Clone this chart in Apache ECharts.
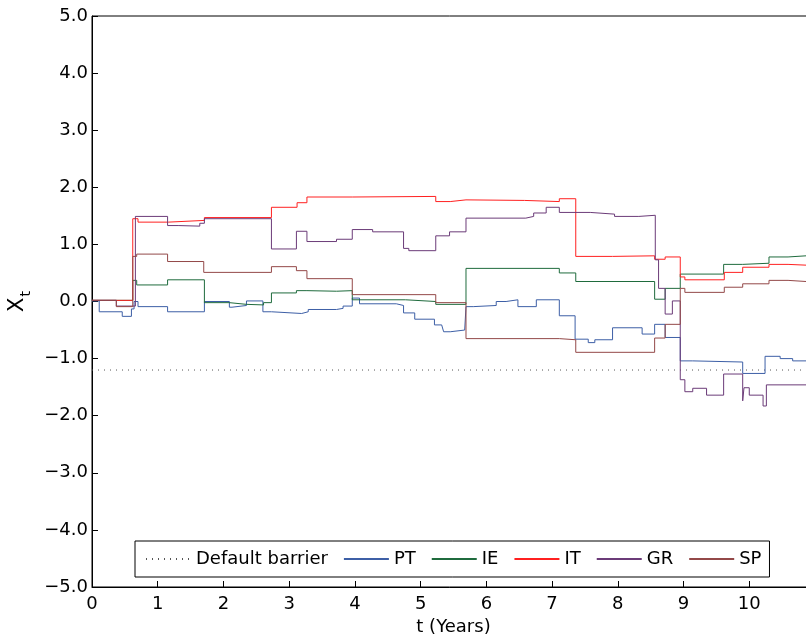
<!DOCTYPE html>
<html>
<head>
<meta charset="utf-8">
<script src="https://cdn.jsdelivr.net/npm/echarts@6/dist/echarts.min.js"></script>
<style>html,body{margin:0;padding:0;background:#fff}#c{width:806px;height:636px}</style>
</head>
<body>
<div id="c"></div>
<script>
// ---- data (t in years, X_t values; each value holds until the next time) ----
const barrierLevel = -1.2;
const barrierTimes = [0, 11];

const ptTimes = [0, 0.11, 0.46, 0.60, 0.64, 0.70, 1.15, 1.71, 2.09, 2.13, 2.35, 2.60, 2.73, 3.19, 3.29, 3.72, 3.82, 3.96, 4.07, 4.63, 4.74, 4.91, 5.21, 5.32, 5.35, 5.45, 5.67, 5.69, 5.80, 6.15, 6.30, 6.48, 6.76, 7.11, 7.35, 7.55, 7.65, 7.92, 8.37, 8.56, 8.72, 8.95, 9.14, 9.90, 10.24, 10.47, 10.66, 11];
const ptValues = [0.01, -0.18, -0.26, -0.13, 0.0, -0.09, -0.18, 0.0, -0.10, -0.07, 0.01, -0.18, -0.21, -0.18, -0.14, -0.12, -0.08, 0.06, -0.04, -0.07, -0.20, -0.31, -0.41, -0.38, -0.53, -0.50, -0.47, -0.09, -0.07, 0.0, 0.03, -0.09, 0.03, -0.25, -0.66, -0.72, -0.67, -0.46, -0.57, -0.40, -0.63, -1.04, -1.06, -1.26, -0.96, -1.00, -1.04, -1.04];

const ieTimes = [0, 0.62, 0.68, 1.15, 1.71, 2.09, 2.35, 2.61, 2.73, 3.11, 3.27, 3.72, 3.96, 4.77, 5.23, 5.69, 7.11, 7.36, 8.56, 8.72, 8.95, 9.61, 9.90, 10.30, 10.59, 11];
const ieValues = [0.02, 0.37, 0.29, 0.38, -0.02, -0.05, -0.06, -0.02, 0.15, 0.19, 0.18, 0.19, 0.03, 0.0, -0.05, 0.58, 0.50, 0.35, 0.04, 0.23, 0.48, 0.65, 0.67, 0.78, 0.81, 0.81];

const itTimes = [0, 0.62, 0.70, 1.16, 1.71, 2.73, 3.12, 3.27, 3.96, 5.23, 5.45, 5.69, 6.58, 7.11, 7.36, 7.92, 8.56, 8.72, 8.95, 9.02, 9.62, 9.90, 10.30, 10.59, 11];
const itValues = [0.02, 1.45, 1.39, 1.42, 1.47, 1.65, 1.73, 1.83, 1.84, 1.75, 1.78, 1.77, 1.75, 1.80, 0.79, 0.80, 0.74, 0.78, 0.43, 0.38, 0.51, 0.60, 0.65, 0.63, 0.63];

const grTimes = [0, 0.37, 0.66, 1.15, 1.31, 1.64, 1.71, 2.73, 3.11, 3.27, 3.72, 3.96, 4.27, 4.74, 4.82, 5.23, 5.44, 5.69, 6.60, 6.72, 6.91, 7.11, 7.58, 7.95, 8.32, 8.57, 8.62, 8.72, 8.83, 8.95, 9.02, 9.14, 9.35, 9.61, 9.90, 9.92, 10.00, 10.21, 10.26, 11];
const grValues = [0.02, -0.08, 1.49, 1.33, 1.32, 1.37, 1.45, 0.92, 1.23, 1.05, 1.09, 1.26, 1.22, 0.93, 0.89, 1.15, 1.22, 1.46, 1.49, 1.55, 1.65, 1.56, 1.53, 1.49, 1.51, 0.73, 0.23, -0.22, 0.01, -1.37, -1.58, -1.52, -1.64, -1.27, -1.74, -1.51, -1.64, -1.83, -1.46, -1.46];

const spTimes = [0, 0.37, 0.62, 0.68, 1.15, 1.70, 2.73, 3.11, 3.27, 3.96, 5.23, 5.69, 7.11, 7.36, 8.56, 8.72, 8.95, 9.02, 9.62, 9.90, 10.30, 10.59, 11];
const spValues = [0.02, -0.09, 0.79, 0.83, 0.70, 0.51, 0.61, 0.54, 0.40, 0.12, -0.02, -0.65, -0.67, -0.89, -0.64, -0.40, 0.23, 0.16, 0.25, 0.31, 0.37, 0.34, 0.34];

const xTickLabels = ['0','1','2','3','4','5','6','7','8','9','10'];
const legendNames = ['Default barrier', 'PT', 'IE', 'IT', 'GR', 'SP'];

// ---- build ----
function zip(ts, vs) { return ts.map((t, i) => [t, vs[i]]); }
const FONT = 'DejaVu Sans';
const colors = { PT: '#3d5fa6', IE: '#1f6b3d', IT: '#ff2020', GR: '#6b3b78', SP: '#934848' };

function stepSeries(name, ts, vs) {
  return {
    name, type: 'line', step: 'end', symbol: 'none', showSymbol: false,
    data: zip(ts, vs),
    lineStyle: { width: 1, color: colors[name] },
    itemStyle: { color: colors[name] },
    emphasis: { disabled: true }
  };
}

const chart = echarts.init(document.getElementById('c'), null, { renderer: 'canvas' });
chart.setOption({
  animation: false,
  backgroundColor: '#fff',
  textStyle: { fontFamily: FONT },
  grid: { left: 92, top: 16, width: 723, height: 571, outerBoundsMode: 'none', containLabel: false,
          show: true, borderColor: '#000', borderWidth: 1, backgroundColor: 'transparent' },
  xAxis: {
    type: 'value', min: 0, max: 11, interval: 1,
    name: 't (Years)', nameLocation: 'middle', nameGap: 30,
    nameTextStyle: { fontSize: 18, color: '#000', fontFamily: FONT, verticalAlign: 'top' },
    axisLine: { onZero: false, lineStyle: { color: '#000', width: 1 } },
    axisTick: { inside: true, length: 6, lineStyle: { color: '#000' } },
    axisLabel: { fontSize: 18, color: '#000', fontFamily: FONT, margin: 8,
      formatter: v => xTickLabels[Math.round(v)] !== undefined ? xTickLabels[Math.round(v)] : '' },
    splitLine: { show: false }
  },
  yAxis: {
    type: 'value', min: -5, max: 5, interval: 1,
    name: '{x|X}{s|t}', nameLocation: 'middle', nameRotate: 90, nameGap: 58,
    nameTextStyle: { color: '#000', fontFamily: FONT,
      rich: { x: { fontSize: 21, fontFamily: FONT, color: '#000' },
              s: { fontSize: 14, fontFamily: FONT, color: '#000', padding: [18, 0, 0, 1] } } },
    axisLine: { onZero: false, lineStyle: { color: '#000', width: 1 } },
    axisTick: { inside: true, length: 6, lineStyle: { color: '#000' } },
    axisLabel: { fontSize: 18, color: '#000', fontFamily: FONT, margin: 4,
      formatter: v => (v < 0 ? '\u2212' : '') + Math.abs(v).toFixed(1) },
    splitLine: { show: false }
  },
  legend: {
    data: legendNames,
    left: 135, top: 541,
    orient: 'horizontal',
    backgroundColor: '#fff', borderColor: '#000', borderWidth: 1,
    padding: [9, 8, 9, 10],
    itemWidth: 45, itemHeight: 14, itemGap: 15,
    itemStyle: { opacity: 0, borderWidth: 0 },
    textStyle: { fontSize: 18, color: '#000', fontFamily: FONT },
    selectedMode: false
  },
  series: [
    {
      name: 'Default barrier', type: 'line', symbol: 'none', showSymbol: false,
      data: barrierTimes.map(t => [t, barrierLevel]),
      lineStyle: { width: 1, color: '#555', type: [1, 5] },
      itemStyle: { color: '#555' },
      emphasis: { disabled: true }
    },
    stepSeries('PT', ptTimes, ptValues),
    stepSeries('IE', ieTimes, ieValues),
    stepSeries('IT', itTimes, itValues),
    stepSeries('GR', grTimes, grValues),
    stepSeries('SP', spTimes, spValues)
  ]
});
</script>
</body>
</html>
